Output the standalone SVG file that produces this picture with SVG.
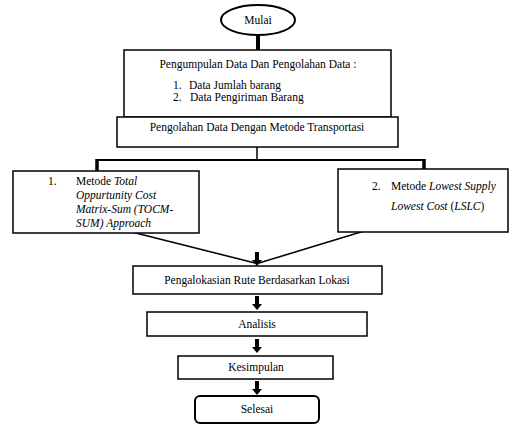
<svg xmlns="http://www.w3.org/2000/svg" width="509" height="425" viewBox="0 0 509 425">
<style>
text{font-family:'Liberation Serif','Times New Roman',Times,serif;font-size:11.5px;fill:#000}
.c{text-anchor:middle}
.b{fill:#fff;stroke:#000;stroke-width:1.5}
.i{font-style:italic}
.ln{stroke:#000;fill:none}
</style>
<defs>
<g id="arr"><rect x="-2" y="0" width="4" height="9" fill="#000"/><polygon points="-5,8 5,8 0,14" fill="#000"/></g>
</defs>
<rect width="509" height="425" fill="#fff"/>
<g id="connectors">
<line class="ln" x1="258" y1="34" x2="258" y2="50" stroke-width="4"/>
<line class="ln" x1="257" y1="147" x2="257" y2="160" stroke-width="1.5"/>
<line class="ln" x1="97" y1="160" x2="425" y2="160" stroke-width="2"/>
<line class="ln" x1="97" y1="159" x2="97" y2="172" stroke-width="3.5"/>
<line class="ln" x1="424" y1="159" x2="424" y2="170" stroke-width="3.5"/>
<line class="ln" x1="100" y1="224" x2="255" y2="263" stroke-width="1.5"/>
<line class="ln" x1="407" y1="218" x2="259" y2="263" stroke-width="1.5"/>
<use href="#arr" x="257" y="252"/>
<use href="#arr" x="257" y="296"/>
<use href="#arr" x="257" y="339"/>
<use href="#arr" x="257" y="381"/>
</g>
<g id="mulai">
<ellipse cx="258" cy="20" rx="37" ry="15" fill="#fff" stroke="#000" stroke-width="2"/>
<text class="c" x="258" y="24">Mulai</text>
</g>
<g id="pengumpulan">
<rect class="b" x="124" y="50" width="267" height="67"/>
<text class="c" x="258" y="68">Pengumpulan Data Dan Pengolahan Data :</text>
<text x="173" y="89">1.</text><text x="189" y="89">Data Jumlah barang</text>
<text x="173" y="101">2.</text><text x="190" y="101">Data Pengiriman Barang</text>
</g>
<g id="pengolahan">
<rect class="b" x="117" y="117" width="281" height="30"/>
<text class="c" x="257" y="131">Pengolahan Data Dengan Metode Transportasi</text>
</g>
<g id="tocm">
<rect class="b" x="13" y="171" width="186" height="62"/>
<text x="48" y="185">1.</text>
<text x="76" y="185">Metode <tspan class="i">Total</tspan></text>
<text class="i" x="76" y="199">Oppurtunity Cost</text>
<text class="i" x="76" y="213">Matrix-Sum (TOCM-</text>
<text class="i" x="76" y="227">SUM) Approach</text>
</g>
<g id="lslc">
<rect class="b" x="338" y="169" width="170" height="63"/>
<text x="372" y="190">2.</text>
<text x="391" y="190">Metode <tspan class="i">Lowest Supply</tspan></text>
<text x="391" y="210"><tspan class="i">Lowest Cost</tspan> (<tspan class="i">LSLC</tspan>)</text>
</g>
<g id="alokasi">
<rect class="b" x="133" y="266" width="249" height="28"/>
<text class="c" x="257" y="284">Pengalokasian Rute Berdasarkan Lokasi</text>
</g>
<g id="analisis">
<rect class="b" x="147" y="312" width="220" height="24"/>
<text class="c" x="257" y="328">Analisis</text>
</g>
<g id="kesimpulan">
<rect class="b" x="178" y="356" width="155" height="23"/>
<text class="c" x="256" y="371">Kesimpulan</text>
</g>
<g id="selesai">
<rect x="195" y="396" width="124" height="27" rx="5" fill="#fff" stroke="#000" stroke-width="2"/>
<text class="c" x="257" y="413">Selesai</text>
</g>
</svg>
